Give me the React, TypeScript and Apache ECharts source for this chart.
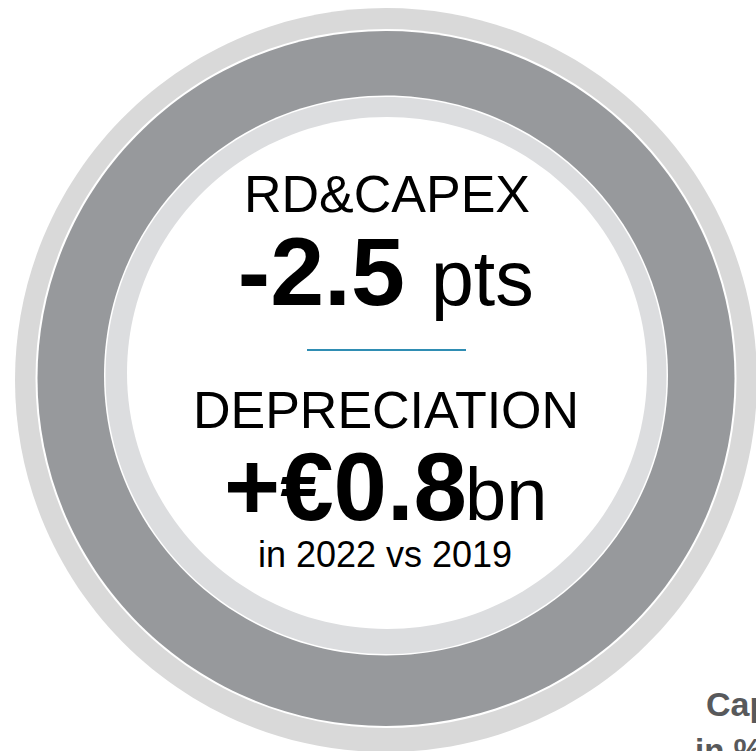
import React, { useEffect, useRef } from "react";
import * as echarts from "echarts";

// ---- content ----
const metricLabels = ["RD&CAPEX", "DEPRECIATION"];
const metricValues = ["-2.5", "+€0.8"];
const metricUnits = ["pts", "bn"];
const comparisonNote = "in 2022 vs 2019";
const sideTitleLines = ["Cap", "in %"];

const FONT = "'Liberation Sans', Arial, Helvetica, sans-serif";

// alphabetic baseline -> y for verticalAlign 'middle'
const mid = (baseline: number, size: number) => baseline - size * 0.35;

export default function App() {
  const ref = useRef<HTMLDivElement>(null);

  useEffect(() => {
    if (!ref.current) return;
    const chart = echarts.init(ref.current, null, { renderer: "svg" });

    const txt = (
      text: string,
      x: number,
      baseline: number,
      size: number,
      weight: string,
      align: string,
      fill = "#000000"
    ) => ({
      type: "text",
      x,
      y: mid(baseline, size),
      style: {
        text,
        fontFamily: FONT,
        fontSize: size,
        fontWeight: weight,
        fill,
        align,
        verticalAlign: "middle",
      },
    });

    const option: any = {
      animation: false,
      backgroundColor: "#ffffff",
      graphic: [
        // outer light ring
        { type: "ellipse", shape: { cx: 386, cy: 380, rx: 371, ry: 372 }, style: { fill: "#d9d9d9" } },
        { type: "ellipse", shape: { cx: 386, cy: 378.5, rx: 350.5, ry: 349.5 }, style: { fill: "#ffffff" } },
        // dark ring
        { type: "ellipse", shape: { cx: 386, cy: 378.5, rx: 348.5, ry: 347.5 }, style: { fill: "#97999c" } },
        { type: "ellipse", shape: { cx: 386, cy: 375.5, rx: 282, ry: 280 }, style: { fill: "#ffffff" } },
        // inner light ring
        { type: "ellipse", shape: { cx: 386, cy: 375.5, rx: 280.5, ry: 278.5 }, style: { fill: "#dcdddf" } },
        // white interior
        { type: "ellipse", shape: { cx: 387, cy: 373, rx: 260, ry: 256 }, style: { fill: "#ffffff" } },

        txt(metricLabels[0], 387, 212, 52, "normal", "center"),
        txt(metricValues[0], 405, 305, 97, "bold", "right"),
        txt(metricUnits[0], 431, 305, 77, "normal", "left"),

        {
          type: "line",
          shape: { x1: 307, y1: 350, x2: 466, y2: 350 },
          style: { stroke: "#2f8db3", lineWidth: 2 },
        },

        txt(metricLabels[1], 386, 428, 52, "normal", "center"),
        txt(metricValues[1], 467, 520, 96, "bold", "right"),
        txt(metricUnits[1], 465, 520, 74, "normal", "left"),
        txt(comparisonNote, 385, 567, 36, "normal", "center"),

        txt(sideTitleLines[0], 706, 716, 34, "bold", "left", "#58595b"),
        txt(sideTitleLines[1], 695, 762, 33, "bold", "left", "#58595b"),
      ],
    };

    chart.setOption(option);
    return () => chart.dispose();
  }, []);

  return (
    <div
      ref={ref}
      style={{ position: "absolute", left: 0, top: 0, width: 756, height: 751 }}
    />
  );
}
